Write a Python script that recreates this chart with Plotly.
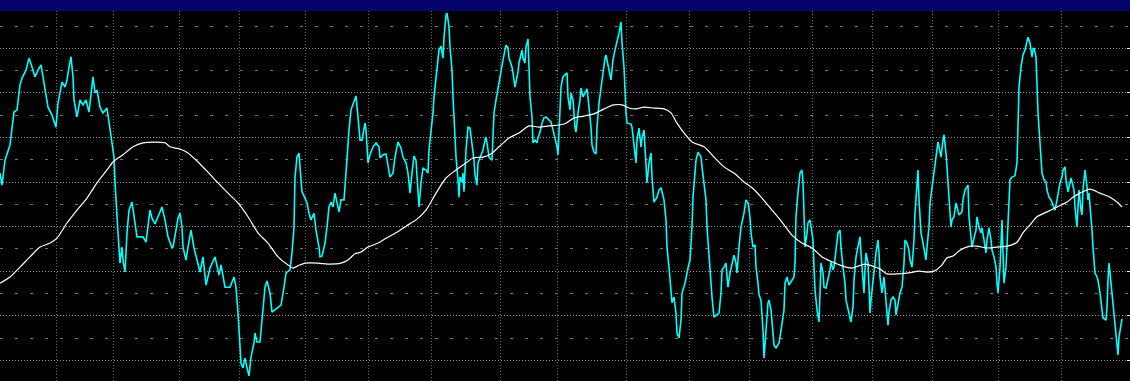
import plotly.graph_objects as go

# time axis unit: one step = 1/3 of a trading session
price_t = [0, 2, 5, 10, 14, 17, 20, 22, 26, 29, 32, 35, 38, 41, 43, 46, 48, 52, 56, 58, 60, 62, 65, 67, 69, 71, 73, 74, 77, 78,
           80, 83, 86, 89, 91, 93, 95, 97, 100, 103, 107, 108, 110, 112, 114, 115, 117, 118, 120, 122, 123, 125, 127, 129, 132, 134, 137, 140, 143, 146,
           148, 150, 152, 155, 158, 162, 165, 168, 172, 173, 176, 178, 180, 182, 183, 186, 188, 191, 194, 196, 200, 203, 206, 210, 215, 219, 221, 225, 230, 234,
           236, 238, 240, 241, 243, 245, 247, 249, 251, 254, 255, 257, 260, 262, 265, 267, 270, 272, 275, 278, 281, 284, 286, 290, 292, 294, 295, 297, 299, 300,
           302, 305, 307, 309, 311, 314, 316, 319, 320, 322, 325, 327, 329, 331, 333, 335, 337, 339, 341, 344, 346, 347, 349, 351, 354, 356, 358, 360, 362, 365,
           366, 368, 370, 373, 376, 379, 380, 383, 386, 388, 390, 393, 395, 398, 401, 403, 406, 408, 410, 412, 414, 416, 418, 419, 421, 423, 426, 428, 429, 431,
           433, 434, 436, 438, 439, 441, 443, 444, 446, 447, 449, 450, 452, 453, 454, 455, 456, 458, 459, 460, 462, 463, 464, 466, 468, 470, 472, 474, 475, 477,
           478, 480, 483, 485, 486, 488, 489, 492, 493, 494, 496, 498, 501, 503, 506, 508, 509, 512, 513, 515, 518, 519, 522, 523, 525, 526, 528, 529, 530, 532,
           533, 535, 537, 538, 540, 542, 544, 546, 549, 551, 553, 555, 557, 558, 559, 560, 561, 563, 566, 567, 568, 570, 571, 573, 575, 576, 578, 580, 581, 583,
           585, 587, 589, 591, 592, 594, 596, 597, 599, 601, 603, 605, 606, 608, 610, 611, 613, 615, 617, 619, 621, 622, 624, 625, 626, 627, 631, 632, 634, 636,
           637, 639, 641, 642, 644, 646, 647, 649, 651, 652, 654, 657, 659, 661, 664, 666, 667, 669, 671, 672, 674, 676, 677, 679, 681, 682, 685, 687, 688, 690,
           692, 693, 695, 696, 698, 701, 702, 704, 706, 707, 709, 711, 712, 714, 717, 719, 721, 722, 724, 726, 727, 728, 730, 732, 734, 736, 737, 739, 741, 744,
           746, 748, 750, 751, 753, 755, 756, 758, 759, 761, 763, 764, 766, 768, 769, 771, 773, 774, 776, 779, 780, 782, 784, 785, 787, 789, 791, 794, 795, 796,
           798, 800, 802, 803, 804, 805, 807, 808, 810, 811, 813, 814, 815, 817, 819, 820, 821, 823, 824, 826, 828, 830, 831, 833, 834, 836, 838, 840, 841, 843,
           845, 846, 849, 851, 853, 854, 856, 858, 860, 861, 863, 864, 865, 866, 868, 869, 870, 871, 873, 874, 876, 878, 879, 880, 882, 884, 885, 886, 888, 889,
           891, 893, 895, 896, 898, 900, 902, 904, 905, 907, 909, 910, 912, 914, 915, 917, 918, 919, 921, 923, 924, 926, 927, 929, 930, 932, 934, 936, 938, 939,
           941, 943, 944, 946, 947, 949, 951, 952, 954, 956, 957, 959, 962, 963, 965, 967, 968, 969, 971, 972, 974, 976, 977, 979, 981, 982, 984, 986, 987, 989,
           991, 992, 994, 996, 997, 998, 1000, 1001, 1002, 1003, 1004, 1006, 1007, 1009, 1010, 1012, 1015, 1017, 1018, 1019, 1021, 1022, 1023, 1025, 1027, 1028, 1030, 1032, 1033, 1034,
           1036, 1037, 1038, 1040, 1042, 1044, 1046, 1047, 1049, 1051, 1053, 1055, 1057, 1058, 1060, 1062, 1063, 1065, 1066, 1068, 1069, 1071, 1072, 1074, 1075, 1076, 1077, 1078, 1079, 1081,
           1082, 1083, 1084, 1085, 1087, 1088, 1089, 1091, 1092, 1093, 1095, 1097, 1098, 1100, 1102, 1103, 1106, 1107, 1108, 1109, 1110, 1111, 1113, 1114, 1116, 1117, 1118, 1119, 1121, 1122]

price_v = [42.0, 39.3, 44.9, 48.3, 55.7, 56.2, 61.8, 63.3, 65.1, 67.8, 65.8, 63.6, 65.1, 66.3, 63.6, 60.0, 56.8, 55.0, 52.3, 57.7, 60.0, 62.4, 61.3, 62.9, 65.8, 68.1, 63.6, 58.4, 54.6, 56.2,
           58.4, 57.3, 58.4, 55.7, 59.1, 63.6, 60.0, 60.6, 56.8, 55.5, 56.6, 55.0, 52.1, 48.8, 45.6, 40.0, 33.7, 28.6, 21.8, 25.4, 22.5, 19.8, 28.6, 33.7, 35.5, 32.2, 27.7, 27.7, 27.7, 26.5,
           29.9, 33.7, 31.9, 30.6, 32.2, 34.4, 31.5, 27.7, 25.2, 25.4, 29.2, 31.9, 33.0, 29.9, 25.4, 22.5, 25.4, 29.2, 25.2, 23.2, 19.8, 23.2, 16.9, 20.7, 23.2, 19.1, 21.4, 16.4, 16.4, 18.7,
           16.4, 10.6, 3.9, -0.6, -1.7, 0.5, -1.7, -3.5, 0.7, 3.9, 6.1, 4.1, 4.1, 9.7, 16.4, 17.8, 15.1, 10.8, 11.3, 12.0, 12.4, 16.4, 19.6, 20.3, 24.1, 29.9, 41.1, 45.6, 46.5, 43.4,
           37.8, 36.4, 35.3, 33.0, 31.5, 33.0, 29.2, 25.4, 23.2, 23.4, 26.3, 29.9, 34.4, 35.5, 34.4, 37.5, 35.3, 33.3, 36.0, 36.0, 42.0, 46.1, 51.7, 56.2, 58.4, 59.3, 54.6, 49.4, 49.4, 53.2,
           51.7, 44.3, 46.1, 47.9, 48.8, 47.9, 45.4, 46.1, 46.3, 43.4, 41.1, 42.0, 45.6, 49.0, 47.6, 45.6, 44.3, 42.0, 37.5, 42.0, 45.8, 44.9, 39.3, 34.4, 39.8, 43.1, 42.7, 42.0, 47.2, 51.0,
           55.5, 59.1, 62.9, 66.3, 69.6, 70.5, 67.8, 72.3, 77.5, 77.9, 74.8, 70.3, 65.1, 59.1, 54.6, 50.1, 45.6, 40.5, 36.6, 41.1, 40.0, 42.0, 37.8, 47.2, 52.3, 52.1, 48.8, 44.9, 41.6, 39.3,
           44.3, 45.6, 47.2, 49.4, 50.1, 47.2, 45.6, 44.9, 51.0, 55.5, 58.4, 61.1, 64.5, 67.4, 70.7, 70.1, 67.8, 65.8, 64.5, 61.3, 64.7, 66.7, 69.6, 67.8, 66.7, 70.3, 72.1, 66.7, 59.1, 54.6,
           48.8, 49.4, 48.8, 49.9, 51.2, 53.2, 54.4, 54.6, 53.9, 53.5, 51.7, 50.1, 47.9, 46.1, 51.7, 56.8, 61.3, 63.6, 64.2, 64.5, 59.1, 56.2, 60.0, 58.4, 52.3, 51.2, 55.5, 58.4, 61.1, 59.1,
           60.0, 60.9, 56.8, 52.3, 48.3, 46.7, 46.3, 52.3, 57.7, 61.3, 63.6, 67.8, 68.5, 65.8, 64.0, 62.9, 67.4, 69.6, 71.2, 73.4, 75.9, 71.2, 65.8, 60.0, 55.5, 53.2, 53.0, 52.3, 48.8, 44.3,
           49.4, 52.1, 47.9, 49.9, 51.7, 44.9, 39.8, 44.3, 46.5, 41.1, 35.5, 36.6, 38.2, 38.7, 36.0, 31.5, 25.4, 20.9, 16.4, 12.9, 14.2, 10.6, 6.1, 5.0, 9.0, 15.1, 17.3, 20.3, 20.7, 22.5,
           29.9, 36.6, 42.0, 44.9, 46.7, 45.6, 43.4, 39.8, 36.0, 29.9, 23.2, 18.7, 14.2, 9.7, 10.2, 10.6, 15.1, 20.3, 20.9, 21.8, 18.7, 16.4, 19.6, 21.8, 23.6, 21.8, 19.6, 25.4, 29.9, 33.0,
           36.0, 35.3, 32.2, 28.6, 25.4, 25.9, 20.9, 17.3, 14.7, 13.5, 6.8, 0.5, 6.1, 12.9, 13.5, 11.3, 6.1, 3.4, 2.8, 3.9, 5.2, 8.4, 11.3, 17.3, 18.7, 16.9, 17.6, 18.7, 21.8, 32.2,
           37.8, 42.0, 42.7, 39.8, 33.0, 25.4, 28.6, 30.8, 31.5, 29.9, 27.0, 20.9, 15.8, 11.3, 8.6, 15.1, 21.8, 19.6, 16.4, 16.2, 18.0, 20.3, 22.1, 20.3, 20.9, 25.4, 28.6, 29.2, 25.4, 20.9,
           17.3, 13.5, 10.6, 8.6, 12.0, 18.0, 23.2, 25.2, 27.7, 24.1, 18.7, 15.1, 20.3, 24.1, 21.8, 12.9, 10.6, 13.5, 18.0, 20.9, 24.1, 27.0, 24.1, 18.7, 15.1, 18.7, 16.4, 13.5, 7.9, 10.8,
           13.5, 14.2, 13.5, 10.2, 12.9, 15.1, 16.4, 21.8, 27.0, 26.3, 24.7, 22.5, 20.9, 27.0, 33.0, 40.5, 42.7, 36.0, 28.6, 26.3, 24.7, 22.5, 25.4, 29.9, 35.3, 38.9, 42.0, 44.9, 49.0, 47.9,
           45.6, 49.4, 50.6, 46.5, 42.7, 37.5, 29.9, 31.5, 32.2, 35.3, 34.2, 32.6, 33.3, 36.0, 38.2, 38.9, 39.3, 32.2, 27.0, 25.4, 27.4, 29.2, 32.2, 29.9, 28.6, 29.7, 27.0, 24.1, 27.0, 29.7,
           27.0, 24.7, 23.2, 20.9, 17.3, 15.1, 20.9, 29.2, 31.5, 24.1, 17.3, 20.9, 25.4, 33.0, 40.5, 41.1, 41.4, 44.3, 56.2, 61.3, 65.8, 67.8, 68.5, 69.6, 71.4, 72.5, 71.2, 68.1, 69.6, 70.1,
           68.1, 61.3, 55.5, 48.8, 42.0, 40.5, 40.0, 38.2, 36.6, 36.0, 34.8, 33.7, 36.0, 37.5, 39.8, 41.1, 42.7, 43.4, 40.5, 37.8, 38.9, 40.9, 40.0, 38.2, 34.4, 31.5, 29.9, 34.4, 38.2, 33.7,
           32.6, 38.2, 41.1, 42.7, 38.9, 36.0, 37.5, 33.0, 29.2, 25.4, 19.6, 18.7, 18.0, 15.1, 11.7, 9.5, 9.0, 12.0, 18.0, 21.8, 19.6, 17.3, 12.0, 9.0, 5.2, 3.0, 1.2, 5.2, 7.5, 9.3]

avg_t = [0, 10, 20, 30, 40, 50, 57, 67, 77, 87, 97, 107, 113, 123, 133, 143, 165, 170, 180, 188, 198, 208, 218, 228, 238, 248, 258, 268, 278, 288,
         293, 298, 305, 318, 328, 341, 348, 355, 361, 368, 378, 386, 396, 406, 416, 426, 436, 446, 456, 466, 473, 483, 491, 499, 509, 519, 529, 539, 549, 559,
         566, 574, 584, 594, 604, 614, 622, 629, 636, 644, 654, 664, 671, 677, 684, 692, 704, 714, 724, 734, 744, 752, 762, 772, 782, 792, 802, 812, 822, 832,
         842, 852, 859, 865, 872, 880, 887, 899, 909, 919, 927, 934, 942, 947, 953, 960, 970, 977, 987, 997, 1007, 1017, 1023, 1030, 1037, 1047, 1057, 1067, 1073, 1080,
         1090, 1100, 1110, 1117, 1122]

avg_v = [17.3, 18.7, 20.9, 23.2, 25.4, 26.3, 27.4, 30.8, 33.7, 36.4, 39.8, 42.7, 44.5, 46.1, 47.9, 48.8, 48.8, 47.9, 47.4, 46.5, 44.5, 42.2, 39.8, 37.5, 35.3, 32.2, 28.6, 26.3, 23.2, 21.4,
         20.7, 21.2, 21.8, 21.8, 21.6, 21.8, 22.5, 23.9, 24.3, 25.4, 26.3, 27.4, 28.6, 30.1, 31.5, 33.7, 37.5, 40.9, 42.7, 44.3, 45.4, 45.6, 46.3, 47.9, 49.9, 51.0, 52.6, 52.3, 52.6, 52.8,
         53.2, 54.4, 54.8, 55.3, 56.4, 57.3, 57.3, 56.6, 56.4, 56.8, 56.6, 56.4, 55.5, 53.2, 51.0, 49.0, 47.9, 45.6, 43.4, 42.0, 40.0, 38.7, 36.4, 33.7, 31.0, 28.1, 26.3, 25.2, 23.2, 22.1,
         21.2, 20.7, 21.2, 21.6, 21.2, 20.5, 19.4, 19.4, 19.6, 20.0, 19.8, 20.0, 21.4, 23.0, 23.4, 24.7, 25.6, 25.6, 25.2, 25.4, 25.6, 26.5, 28.6, 30.4, 32.2, 33.3, 34.4, 35.5, 36.6, 37.5,
         38.4, 37.5, 36.6, 35.5, 34.4]

# month boundaries on the time axis
month_starts = [56, 113, 179, 239, 305, 368, 431, 500, 557, 626, 689, 749, 812, 872, 932, 998, 1061]

fig = go.Figure()
fig.add_trace(go.Scatter(x=price_t, y=price_v, mode="lines",
                         line=dict(color="#00ffff", width=1.6), hoverinfo="skip"))
fig.add_trace(go.Scatter(x=avg_t, y=avg_v, mode="lines",
                         line=dict(color="#ffffff", width=1.2, shape="spline", smoothing=0.7),
                         hoverinfo="skip"))

fig.update_layout(
    width=1130, height=381,
    margin=dict(l=0, r=0, t=11, b=0),
    paper_bgcolor="#03036b",
    plot_bgcolor="#000000",
    showlegend=False,
)
fig.update_xaxes(range=[0, 1130], tickvals=month_starts, showticklabels=False, ticks="",
                 showgrid=True, gridcolor="#6a6a6a", gridwidth=1, griddash="1px,2px",
                 zeroline=False, showline=False)
fig.update_yaxes(range=[-4.645, 78.37], tick0=0, dtick=10, side="right",
                 ticks="inside", ticklen=3, tickcolor="#ffffff", tickwidth=1,
                 showticklabels=False,
                 showgrid=True, gridcolor="#9a9a9a", gridwidth=1, griddash="1px,2px",
                 minor=dict(tick0=0, dtick=5, showgrid=True, gridcolor="#767676",
                            griddash="3px,12px", ticks=""),
                 zeroline=False, showline=False)

fig.write_html("out.html", config={"displayModeBar": False})
